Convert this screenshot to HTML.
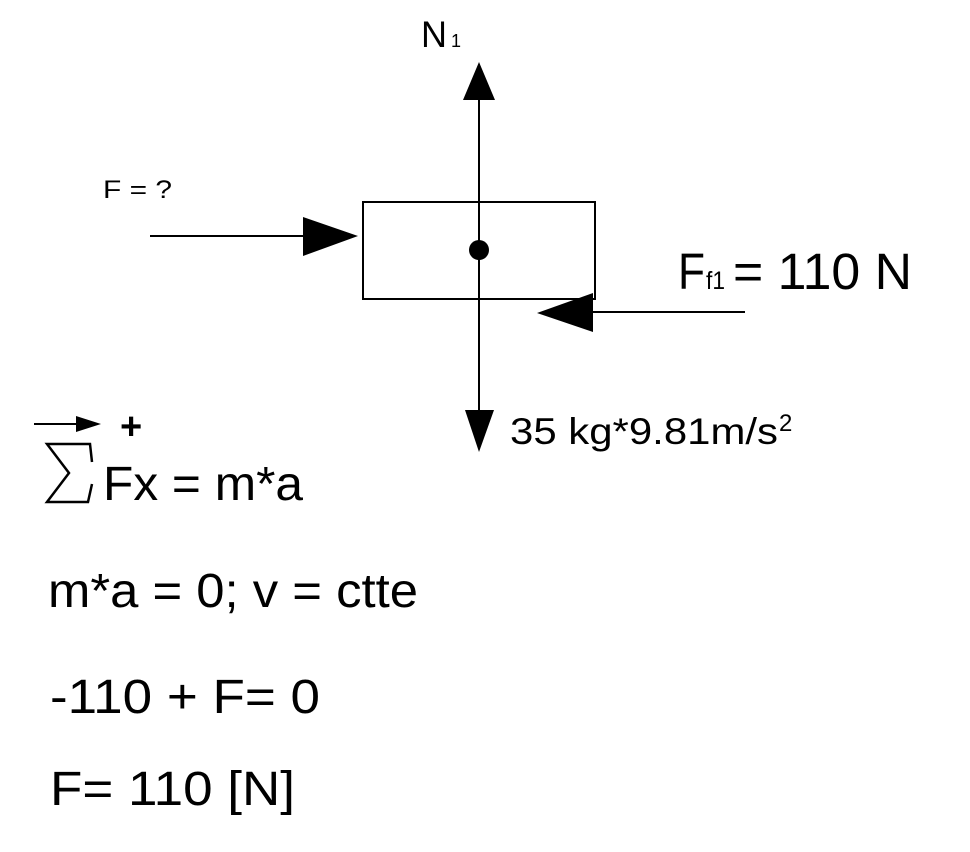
<!DOCTYPE html>
<html><head><meta charset="utf-8"><style>
html,body{margin:0;padding:0;background:#fff;}
svg{display:block}
text{font-family:"Liberation Sans",Arial,sans-serif;fill:#000}
</style></head><body>
<svg width="970" height="852" viewBox="0 0 970 852" xmlns="http://www.w3.org/2000/svg">
<rect width="970" height="852" fill="#fff"/>
<rect x="363" y="202" width="232" height="97" fill="none" stroke="#000" stroke-width="2"/>
<line x1="479" y1="98" x2="479" y2="412" stroke="#000" stroke-width="2"/>
<polygon points="479,62 463,100 495,100" fill="#000"/>
<polygon points="465,410 494,410 479,452" fill="#000"/>
<circle cx="479" cy="250" r="10" fill="#000"/>
<line x1="150" y1="236" x2="305" y2="236" stroke="#000" stroke-width="2"/>
<polygon points="303,217 358,236 303,256" fill="#000"/>
<line x1="590" y1="312" x2="745" y2="312" stroke="#000" stroke-width="2"/>
<polygon points="593,293 537,313 593,332" fill="#000"/>
<text x="421" y="47" font-size="37" textLength="26" lengthAdjust="spacingAndGlyphs">N</text>
<text x="451" y="47" font-size="18">1</text>
<text x="103" y="198" font-size="25" textLength="69" lengthAdjust="spacingAndGlyphs">F = ?</text>
<text x="678" y="289" font-size="51" textLength="27" lengthAdjust="spacingAndGlyphs">F</text>
<text x="706" y="289" font-size="25" textLength="19" lengthAdjust="spacingAndGlyphs">f1</text>
<text x="733" y="289" font-size="51" textLength="179" lengthAdjust="spacingAndGlyphs">= 110 N</text>
<text x="510" y="444" font-size="37" textLength="268" lengthAdjust="spacingAndGlyphs">35 kg*9.81m/s</text>
<text x="779" y="431" font-size="24">2</text>
<line x1="34" y1="424" x2="82" y2="424" stroke="#000" stroke-width="2"/>
<polygon points="76,416 101,424 76,432" fill="#000"/>
<text x="120" y="439" font-size="38" font-weight="bold">+</text>
<path d="M92,462 L90,444 L47,444 L69,473 L47,502 L88,502 L92,484" fill="none" stroke="#000" stroke-width="2.5"/>
<text x="103" y="500" font-size="48" textLength="200" lengthAdjust="spacingAndGlyphs">Fx = m*a</text>
<text x="48" y="607" font-size="48" textLength="370" lengthAdjust="spacingAndGlyphs">m*a = 0; v = ctte</text>
<text x="50" y="713" font-size="48" textLength="270" lengthAdjust="spacingAndGlyphs">-110 + F= 0</text>
<text x="50" y="805" font-size="48" textLength="245" lengthAdjust="spacingAndGlyphs">F= 110 [N]</text>
</svg>
</body></html>
